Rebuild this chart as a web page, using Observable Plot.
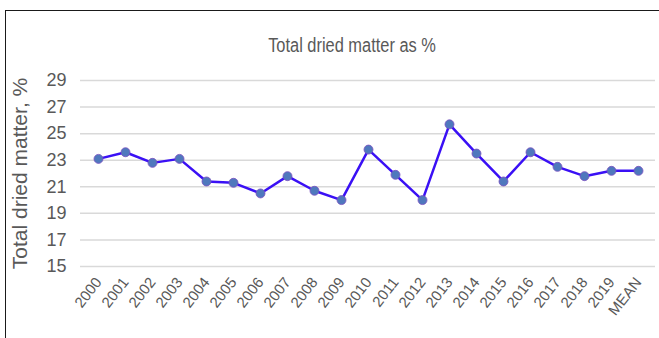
<!DOCTYPE html>
<html><head><meta charset="utf-8">
<script src="https://cdn.jsdelivr.net/npm/d3@7"></script>
<script src="https://cdn.jsdelivr.net/npm/@observablehq/plot@0.6"></script>
<style>
body{margin:0;background:#fff;}
#wrap{position:relative;width:659px;height:338px;overflow:hidden;background:#fff;}
#frame{position:absolute;left:5px;top:10px;width:700px;height:400px;border-left:1.5px solid #1a1a1a;border-top:1.5px solid #1a1a1a;pointer-events:none;}
#title{position:absolute;left:0;top:33px;width:704px;text-align:center;line-height:24px;font-family:"Liberation Sans",Arial,sans-serif;font-size:20px;color:#595959;transform:scaleX(0.82);transform-origin:352px 0;}
#chart{position:absolute;left:0;top:0;}
</style></head>
<body>
<div id="wrap"><div id="chart"></div><div id="frame"></div><div id="title">Total dried matter as %</div></div>
<script>
const categories = ["2000","2001","2002","2003","2004","2005","2006","2007","2008","2009","2010","2011","2012","2013","2014","2015","2016","2017","2018","2019","MEAN"];
const values = [23.1,23.6,22.8,23.1,21.4,21.3,20.5,21.8,20.7,20.0,23.8,21.9,20.0,25.7,23.5,21.4,23.6,22.5,21.8,22.2,22.2];
const yTicks = [15,17,19,21,23,25,27,29];
const yLabel = "Total dried matter, %";
const data = categories.map((c, i) => ({c, v: values[i]}));
const chart = Plot.plot({
  width: 659, height: 338,
  marginLeft: 80, marginRight: 4, marginTop: 80, marginBottom: 72,
  style: {background: "transparent", color: "#595959", fontFamily: "'Liberation Sans', Arial, sans-serif"},
  x: {type: "point", domain: categories, padding: 0.5},
  y: {domain: [15, 29]},
  marks: [
    Plot.ruleY(yTicks, {stroke: "#d9d9d9", strokeWidth: 1.5}),
    Plot.axisY({ticks: yTicks, tickSize: 0, tickPadding: 14, fontSize: 18, label: null, fill: "#595959"}),
    Plot.axisX({tickSize: 0, tickRotate: -52, tickPadding: 13, fontSize: 15, label: null, fill: "#595959"}),
    Plot.line(data, {x: "c", y: "v", stroke: "#3a10f5", strokeWidth: 2.5}),
    Plot.dot(data, {x: "c", y: "v", r: 4.5, fill: "#4f78bd", stroke: "#7a4fc0", strokeWidth: 0.8}),
    Plot.text([yLabel], {frameAnchor: "left", textAnchor: "middle", dx: -60, rotate: -90, fontSize: 21, fill: "#595959"})
  ]
});
document.getElementById("chart").appendChild(chart);
</script>
</body></html>
